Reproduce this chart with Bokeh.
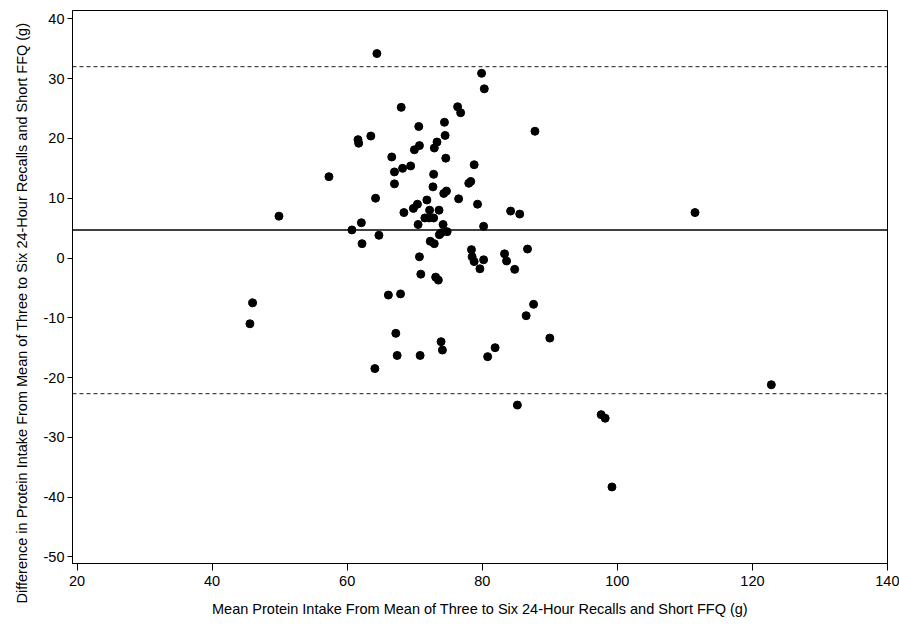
from bokeh.plotting import figure
from bokeh.models import Span, Range1d, FixedTicker, Title
from bokeh.embed import file_html
from bokeh.resources import INLINE

# Mean protein intake (x) and difference (y)
mean_intake = [64.4, 79.9, 80.3, 68.0, 76.35, 76.8, 74.4, 70.6, 74.5, 61.6,
               61.7, 63.5, 73.3, 72.9, 70.7, 69.95, 66.6, 74.6, 78.8, 69.4,
               68.2, 67.0, 72.8, 57.3, 67.0, 72.7, 78.0, 78.3, 74.3, 74.7,
               64.2, 71.8, 76.5, 49.9, 70.4, 69.8, 68.4, 72.2, 73.6, 79.3,
               71.5, 72.1, 72.8, 70.5, 74.2, 80.2, 62.1, 60.7, 74.8, 73.65,
               73.9, 64.7, 62.2, 72.3, 72.9, 78.4, 78.5, 78.8, 80.2, 79.65,
               70.7, 70.9, 73.1, 73.5, 46.0, 45.6, 66.1, 67.9, 67.2, 73.9,
               74.1, 67.4, 70.8, 81.9, 80.8, 64.1, 84.2, 85.55, 83.3, 83.6,
               84.8, 86.7, 87.6, 86.5, 90.0, 111.5, 122.8, 97.6, 98.2, 99.2,
               85.2, 87.8]
difference = [34.2, 30.9, 28.3, 25.2, 25.3, 24.3, 22.7, 22.0, 20.5, 19.8,
              19.2, 20.4, 19.4, 18.4, 18.8, 18.1, 16.9, 16.7, 15.6, 15.4,
              15.0, 14.4, 14.0, 13.6, 12.4, 11.9, 12.5, 12.8, 10.8, 11.2,
              10.0, 9.7, 9.9, 7.0, 9.0, 8.3, 7.6, 8.0, 8.0, 9.0,
              6.7, 6.7, 6.7, 5.6, 5.6, 5.3, 5.9, 4.7, 4.4, 3.9,
              4.2, 3.8, 2.4, 2.8, 2.4, 1.4, 0.2, -0.6, -0.3, -1.8,
              0.2, -2.7, -3.2, -3.7, -7.5, -11.0, -6.2, -6.0, -12.6, -14.0,
              -15.4, -16.3, -16.3, -15.0, -16.5, -18.5, 7.85, 7.35, 0.7, -0.5,
              -1.9, 1.5, -7.75, -9.65, -13.4, 7.6, -21.2, -26.2, -26.8, -38.3,
              -24.6, 21.2]

mean_diff = 4.67
upper_loa = 32.0
lower_loa = -22.7

x_ticks = [20, 40, 60, 80, 100, 120, 140]
y_ticks = [-50, -40, -30, -20, -10, 0, 10, 20, 30, 40]

x_title = "Mean Protein Intake From Mean of Three to Six 24-Hour Recalls and Short FFQ (g)"
y_title = "Difference in Protein Intake From Mean of Three to Six 24-Hour Recalls and Short FFQ (g)"

FONT = "Liberation Sans"
TICK_SIZE = "14.5px"

p = figure(width=899, height=631, output_backend="svg", toolbar_location=None,
           x_range=Range1d(19.33, 140.0), y_range=Range1d(-51.1, 41.4),
           min_border_left=71, min_border_right=12, min_border_top=10,
           min_border_bottom=68)
p.grid.visible = False
p.outline_line_color = "black"
p.outline_line_width = 1
p.background_fill_color = "white"
p.border_fill_color = "white"

p.scatter(mean_intake, difference, size=8, color="black", line_width=1)

p.add_layout(Span(location=mean_diff, dimension="width", line_color="black", line_width=1.5))
p.add_layout(Span(location=upper_loa, dimension="width", line_color="#1a1a1a",
                  line_width=1, line_dash="4 3"))
p.add_layout(Span(location=lower_loa, dimension="width", line_color="#1a1a1a",
                  line_width=1, line_dash="4 3"))

p.xaxis.ticker = FixedTicker(ticks=x_ticks)
p.yaxis.ticker = FixedTicker(ticks=y_ticks)
p.yaxis.major_label_overrides = {t: str(t) for t in y_ticks}
p.xaxis.axis_label = x_title

for ax in (p.xaxis[0], p.yaxis[0]):
    ax.axis_label_text_font = FONT
    ax.axis_label_text_font_style = "normal"
    ax.axis_label_text_font_size = "14.5px"
    ax.axis_label_text_color = "black"
    ax.major_label_text_font = FONT
    ax.major_label_text_font_size = TICK_SIZE
    ax.major_label_text_color = "black"
    ax.axis_line_color = "black"
    ax.major_tick_line_color = "black"
    ax.minor_tick_line_color = None
    ax.major_tick_in = 0

p.xaxis.major_tick_out = 7
p.xaxis.major_label_standoff = 5
p.xaxis.axis_label_standoff = 12
p.yaxis.major_tick_out = 5
p.yaxis.major_label_standoff = 3

ytitle = Title(text=y_title, align="left", offset=-40, text_font=FONT,
               text_font_size="14.5px", text_font_style="normal",
               text_color="black", standoff=22)
p.add_layout(ytitle, "left")

open("out.html", "w").write(file_html(p, INLINE))
